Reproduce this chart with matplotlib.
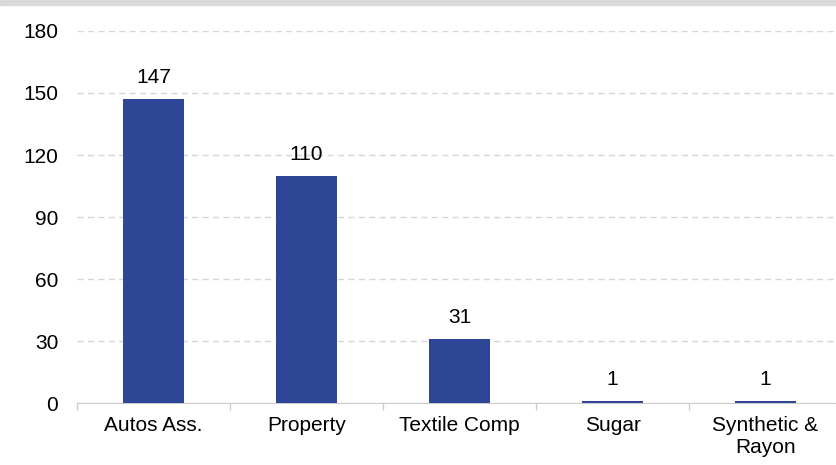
import matplotlib
matplotlib.use("Agg")
import matplotlib.pyplot as plt
from matplotlib.patches import Rectangle

categories = ["Autos Ass.", "Property", "Textile Comp", "Sugar", "Synthetic &\nRayon"]
values = [147, 110, 31, 1, 1]
yticks = [0, 30, 60, 90, 120, 150, 180]

plt.rcParams['font.family'] = ['Liberation Sans', 'DejaVu Sans']
FS = 15

fig = plt.figure(figsize=(8.36, 4.65), dpi=100)
ax = fig.add_axes([77/836, 1 - 403/465, 765/836, 372/465])

x = list(range(len(categories)))
ax.bar(x, values, width=0.405, color="#2F4596", zorder=3)
for xi, v in zip(x, values):
    ax.annotate(str(v), (xi, v), xytext=(0, 8.5), textcoords="offset points",
                ha="center", va="bottom", fontsize=FS, color="#000000")

ax.set_xlim(-0.5, len(categories) - 0.5)
ax.set_ylim(0, 180)
ax.set_yticks(yticks)
ax.set_yticklabels([str(t) for t in yticks], fontsize=FS)
ax.yaxis.grid(True, linestyle=(0, (4.5, 3)), color="#d6d6d6", linewidth=1)
ax.set_axisbelow(True)
ax.tick_params(axis="y", length=0, pad=13.5)

ax.set_xticks(x)
ax.set_xticklabels(categories, fontsize=FS, linespacing=1.22)
ax.tick_params(axis="x", length=0, pad=9)
ax.set_xticks([i - 0.5 for i in range(len(categories) + 1)], minor=True)
ax.tick_params(axis="x", which="minor", length=5, color="#cccccc", width=1)

for s in ["top", "right", "left"]:
    ax.spines[s].set_visible(False)
ax.spines["bottom"].set_color("#cccccc")

fig.patches.append(Rectangle((0, 1 - 5/465), 1, 5/465, transform=fig.transFigure,
                             color="#d9d9d9", zorder=0))

fig.savefig("out.png", dpi=100)
